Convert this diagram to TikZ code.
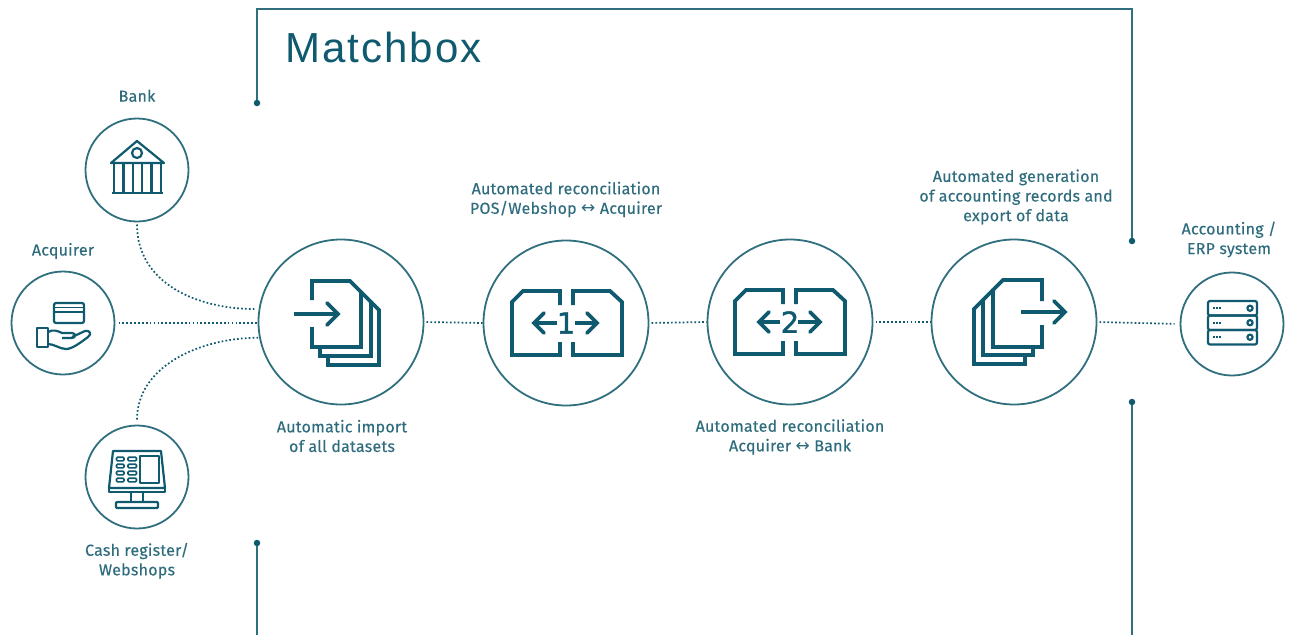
\documentclass[tikz,border=0pt]{standalone}
\usepackage{fontspec}
\setmainfont[LetterSpace=1.5,FakeBold=0.25]{Fira Sans}
\newfontfamily\arrowfont{DejaVu Sans}
\newfontfamily\digitfont[FakeBold=1.2]{DejaVu Sans}
\newfontfamily\titlefont[LetterSpace=4.8]{Liberation Sans}
\definecolor{ink}{HTML}{0F5A6E}
\definecolor{ring}{HTML}{2F6F7E}
\definecolor{labelc}{HTML}{2F6D7E}
\tikzset{
  ringbig/.style={circle,draw=ring,line width=1.8pt,minimum size=165pt,inner sep=0pt,outer sep=0pt},
  ringsmall/.style={circle,draw=ring,line width=1.8pt,minimum size=103pt,inner sep=0pt,outer sep=0pt},
  link/.style={ink,line width=1.7pt,dash pattern=on 1.7pt off 2.2pt},
  frame/.style={ring,line width=1.9pt},
  enddot/.style={circle,fill=ink,inner sep=0pt,minimum size=6.5pt},
  iconb/.style={ink,line width=3.8pt,line cap=butt,line join=miter},
  icons/.style={ink,line width=2.2pt,line join=round},
  lbl/.style={text=labelc,align=center,inner sep=0pt,font=\fontsize{16}{19.6}\selectfont},
  digit/.style={text=ink,inner sep=0pt,font=\digitfont\fontsize{29}{29}\selectfont}
}
\begin{document}
\begin{tikzpicture}[x=1pt,y=-1pt]
\useasboundingbox (0,0) rectangle (1291,635);
\fill[white] (0,0) rectangle (1291,635);
% frame
\node[enddot] (ftl) at (257,103) {};
\node[enddot] (ftr) at (1132,241) {};
\node[enddot] (fbl) at (257,543) {};
\node[enddot] (fbr) at (1132,402) {};
\coordinate (c1) at (257,9);
\coordinate (c2) at (1132,9);
\coordinate (e1) at (257,635);
\coordinate (e2) at (1132,635);
\draw[frame] (ftl) -- (c1) -- (c2) -- (ftr);
\draw[frame] (fbl) -- (e1);
\draw[frame] (fbr) -- (e2);
\node[text=ink,inner sep=0pt,anchor=center,font=\titlefont\fontsize{42}{42}\selectfont] (title) at (383.5,47.5) {Matchbox};
% circles
\node[ringsmall] (bank) at (137,170) {};
\node[ringsmall] (acq) at (63,323) {};
\node[ringsmall] (cash) at (137,477) {};
\node[ringbig] (imp) at (341,322) {};
\node[ringbig] (rec1) at (566,323) {};
\node[ringbig] (rec2) at (790,322) {};
\node[ringbig] (exp) at (1014,322) {};
\node[ringsmall] (erp) at (1232,324) {};
% connectors
\draw[link,shorten <=3pt,shorten >=4pt] (bank.south) .. controls +(0,62) and +(-62,0) .. (imp.171);
\draw[link,shorten <=4pt,shorten >=1pt] (acq.east) -- (imp.west |- acq.east);
\draw[link,shorten <=6pt,shorten >=1pt] (cash.north) .. controls +(0,-58) and +(-62,0) .. (imp.191);
\draw[link,shorten <=3pt,shorten >=1pt] (imp.east) -- (rec1.west);
\draw[link,shorten <=3pt,shorten >=1pt] (rec1.east) -- (rec2.west);
\draw[link,shorten <=3pt,shorten >=1pt] (rec2.east) -- (exp.west);
\draw[link,shorten <=3pt,shorten >=6pt] (exp.east) -- (erp.west);
% labels
\node[lbl] (lbank) at (137,95.8) {Bank};
\node[lbl] (lacq) at (63,251) {Acquirer};
\node[lbl] (lcash) at (137,560.8) {Cash register/\\Webshops};
\node[lbl] (limp) at (342,436) {Automatic import\\of all datasets};
\node[lbl] (lrec1) at (566,199.5) {Automated reconciliation\\POS/Webshop {\arrowfont\fontsize{17}{17}\selectfont ↔} Acquirer};
\node[lbl] (lrec2) at (790,437) {Automated reconciliation\\Acquirer {\arrowfont\fontsize{17}{17}\selectfont ↔} Bank};
\node[lbl] (lexp) at (1016,197) {Automated generation\\of accounting records and\\export of data};
\node[lbl] (lerp) at (1229,239.5) {Accounting /\\ERP system};
% bank icon
\draw[icons] (111,163) -- (137,141) -- (164,163) -- cycle;
\draw[icons] (137,153) circle (5);
\draw[icons] (112,193) -- (163,193);
\foreach \x in {114,123.5,133,142,151.5,161} \draw[icons] (\x,163) -- (\x,193);
% acquirer icon
\draw[icons,rounded corners=2pt] (54,303) rectangle (84,323);
\draw[ink,line width=1.3pt] (54,307.5) -- (84,307.5) (54,312) -- (84,312);
\draw[icons] (37,328) rectangle (48,347);
\draw[icons] (48,332) .. controls (53,329) and (58,331) .. (62,333) -- (72,333) .. controls (76,333) and (76,338) .. (72,338) -- (62,338)
  (72,337) -- (85,331) .. controls (90,330) and (92,334) .. (88,337) .. controls (80,343) and (72,349) .. (66,349) .. controls (60,349) and (54,344) .. (48,344);
% cash icon
\draw[icons] (113,451) -- (161,451) -- (165,488) -- (109,488) -- cycle;
\draw[icons] (109,488) -- (109,492) -- (165,492) -- (165,488);
\draw[icons] (140,456) rectangle (159,483);
\foreach \yy in {459,466,473,480} {
  \draw[ink,line width=1.6pt,rounded corners=1pt] (116.5,\yy-1.8) rectangle (124,\yy+1.8);
  \draw[ink,line width=1.6pt,rounded corners=1pt] (128,\yy-1.8) rectangle (136.5,\yy+1.8);
}
\draw[icons] (131,492) -- (131,502) (143,492) -- (143,502);
\draw[icons,rounded corners=1pt] (116,502) rectangle (158,508);
% import icon
\draw[iconb] (312,300) -- (312,281) -- (350,281) -- (361,292) -- (361,347) -- (312,347) -- (312,327);
\draw[iconb] (361,292) -- (371,302) -- (371,356) -- (320,356) -- (320,347);
\draw[iconb] (371,302) -- (379,310) -- (379,365) -- (328,365) -- (328,356);
\draw[iconb] (294,314) -- (338,314);
\draw[iconb,line cap=round] (327,303) -- (338,314) -- (327,325);
% recon 1
\draw[iconb] (560,305) -- (560,291) -- (523,291) -- (512,302) -- (512,355) -- (560,355) -- (560,342);
\draw[iconb] (573,305) -- (573,291) -- (610,291) -- (622,302) -- (622,355) -- (573,355) -- (573,342);
\draw[iconb] (533,323) -- (557,323) (575,323) -- (598,323);
\draw[iconb,line cap=round] (544,313) -- (534,323) -- (544,333) (587,313) -- (597,323) -- (587,333);
\node[digit] (n1) at (566,323) {1};
% recon 2
\begin{scope}[shift={(223,-1)}]
\draw[iconb] (560,305) -- (560,291) -- (523,291) -- (512,302) -- (512,355) -- (560,355) -- (560,342);
\draw[iconb] (573,305) -- (573,291) -- (610,291) -- (622,302) -- (622,355) -- (573,355) -- (573,342);
\draw[iconb] (535,323) -- (557,323) (575,323) -- (598,323);
\draw[iconb,line cap=round] (546,313) -- (536,323) -- (546,333) (587,313) -- (597,323) -- (587,333);
\end{scope}
\node[digit] (n2) at (790,322) {2};
% export icon
\draw[iconb] (1042,301) -- (1042,280) -- (1003,280) -- (993,290) -- (993,347) -- (1042,347) -- (1042,325);
\draw[iconb] (993,290) -- (983,300) -- (983,355) -- (1033,355) -- (1033,347);
\draw[iconb] (983,300) -- (974,309) -- (974,364) -- (1025,364) -- (1025,355);
\draw[iconb] (1021,312) -- (1065,312);
\draw[iconb,line cap=round] (1054,301) -- (1065,312) -- (1054,323);
% erp icon
\foreach \yy in {301,315.5,330} {
  \draw[icons,rounded corners=2pt] (1208,\yy) rectangle (1257,\yy+14.5);
  \draw[icons] (1250,\yy+7.2) circle (2.6);
  \draw[ink,line width=1.6pt,dash pattern=on 1.5pt off 1.5pt] (1213,\yy+7.2) -- (1222,\yy+7.2);
}
\end{tikzpicture}
\end{document}
